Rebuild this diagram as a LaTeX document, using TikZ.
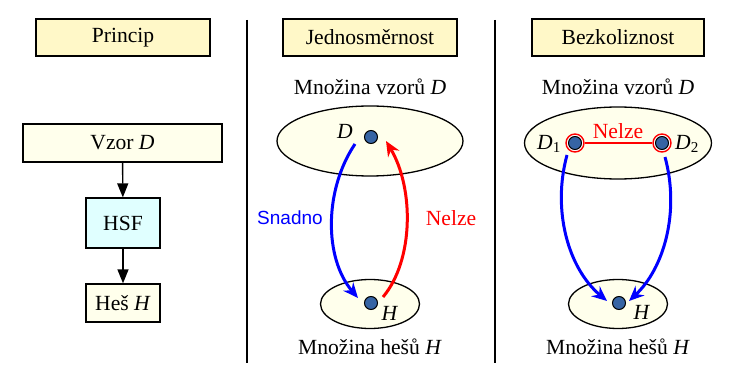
\documentclass[tikz,border=0pt]{standalone}
\usepackage{fontspec}
\setmainfont{Liberation Serif}
\newfontfamily\labelsans{Liberation Sans}
\usetikzlibrary{arrows.meta,shapes.geometric}

\definecolor{headfill}{RGB}{255,248,200}
\definecolor{boxfill}{RGB}{255,255,236}
\definecolor{hsffill}{RGB}{224,255,255}
\definecolor{setfill}{RGB}{255,255,236}
\definecolor{dotfill}{RGB}{54,100,164}

\begin{document}
\begin{tikzpicture}[x=1pt,y=-1pt,
  font=\fontsize{21.6}{26}\selectfont,
  header/.style={draw, line width=1.3pt, fill=headfill, minimum width=174pt,
    minimum height=37pt, inner sep=0pt},
  stepbox/.style={draw, line width=1.3pt, fill=boxfill, inner sep=0pt},
  setshape/.style={draw, ellipse, line width=1.3pt, fill=setfill, inner sep=0pt},
  dot/.style={draw, circle, line width=1pt, fill=dotfill, minimum size=13pt, inner sep=0pt},
  ring/.style={draw=red, circle, line width=1.4pt, fill=white, minimum size=18pt, inner sep=0pt},
  flow/.style={line width=1.4pt, -{Triangle[length=14pt,width=11pt]}},
  easy/.style={draw=blue, line width=3pt, -{Stealth[length=15pt,width=13pt]}},
  hard/.style={draw=red, line width=3pt, -{Stealth[length=15pt,width=13pt]}},
  divider/.style={line width=1.2pt},
  setlabel/.style={inner sep=0pt}
]
\useasboundingbox (0,0) rectangle (742,374);

% ---- column 1: principle ----
\node[header] (h1) at (123,37.5) {Princip};
\node[stepbox, minimum width=199pt, minimum height=38pt] (vzor) at (122.5,143) {Vzor \textit{D}};
\node[stepbox, fill=hsffill, minimum width=74pt, minimum height=50pt] (hsf) at (123,223) {HSF};
\node[stepbox, minimum width=74pt, minimum height=38pt] (hes) at (123,303) {Heš \textit{H}};
\draw[flow] (vzor) -- (hsf);
\draw[flow] (hsf) -- (hes);

\coordinate (v1t) at (247,20);
\coordinate (v1b) at (247,363);
\draw[divider] (v1t) -- (v1b);

% ---- column 2: one-wayness ----
\node[header] (h2) at (370,37.5) {Jednosměrnost};
\node (t2) at (370,87) {Množina vzorů \textit{D}};
\node[setshape, minimum width=186pt, minimum height=70pt] (sd2) at (370,141) {};
\node[setshape, minimum width=99pt, minimum height=49pt] (sh2) at (370,304) {};
\node (b2) at (370,347) {Množina hešů \textit{H}};
\node[dot] (d2) at (371,137) {};
\node[dot] (hh2) at (371,303) {};
\node[setlabel] (ld2) at (345,131) {\textit{D}};
\node[setlabel] (lh2) at (390,313) {\textit{H}};

\coordinate (e2s) at (355,144);
\coordinate (e2e) at (358,298);
\coordinate (n2s) at (383,297);
\coordinate (n2e) at (386,141);
\draw[easy] (e2s) .. controls (324,190) and (324,258) .. (e2e);
\draw[hard] (n2s) .. controls (414,260) and (414,188) .. (n2e);
\node[text=blue, font=\labelsans\fontsize{19}{23}\selectfont] (snadno) at (290,218) {Snadno};
\node[text=red] (nelze2) at (451,218) {Nelze};

\coordinate (v2t) at (495,20);
\coordinate (v2b) at (495,363);
\draw[divider] (v2t) -- (v2b);

% ---- column 3: collision resistance ----
\node[header, minimum width=172pt] (h3) at (618,37.5) {Bezkoliznost};
\node (t3) at (618,87) {Množina vzorů \textit{D}};
\node[setshape, minimum width=187pt, minimum height=72pt] (sd3) at (618,143) {};
\node[setshape, minimum width=99pt, minimum height=49pt] (sh3) at (618,304) {};
\node (b3) at (618,347) {Množina hešů \textit{H}};
\node[ring] (r1) at (575,143) {};
\node[ring] (r2) at (662,143) {};
\draw[red, line width=1.6pt] (r1) -- (r2);
\node[dot] (d31) at (575,143) {};
\node[dot] (d32) at (662,143) {};
\node[dot] (hh3) at (619,303) {};
\node[text=red] (nelze3) at (618,131) {Nelze};
\node[setlabel] (ld31) at (549,144) {\textit{D}\textsubscript{1}};
\node[setlabel] (ld32) at (687,144) {\textit{D}\textsubscript{2}};
\node[setlabel] (lh3) at (642,312) {\textit{H}};

\coordinate (c1s) at (567,155);
\coordinate (c1e) at (607,301);
\coordinate (c2s) at (665,157);
\coordinate (c2e) at (629,301);
\draw[easy] (c1s) .. controls (552,210) and (568,268) .. (c1e);
\draw[easy] (c2s) .. controls (680,212) and (664,268) .. (c2e);
\end{tikzpicture}
\end{document}
